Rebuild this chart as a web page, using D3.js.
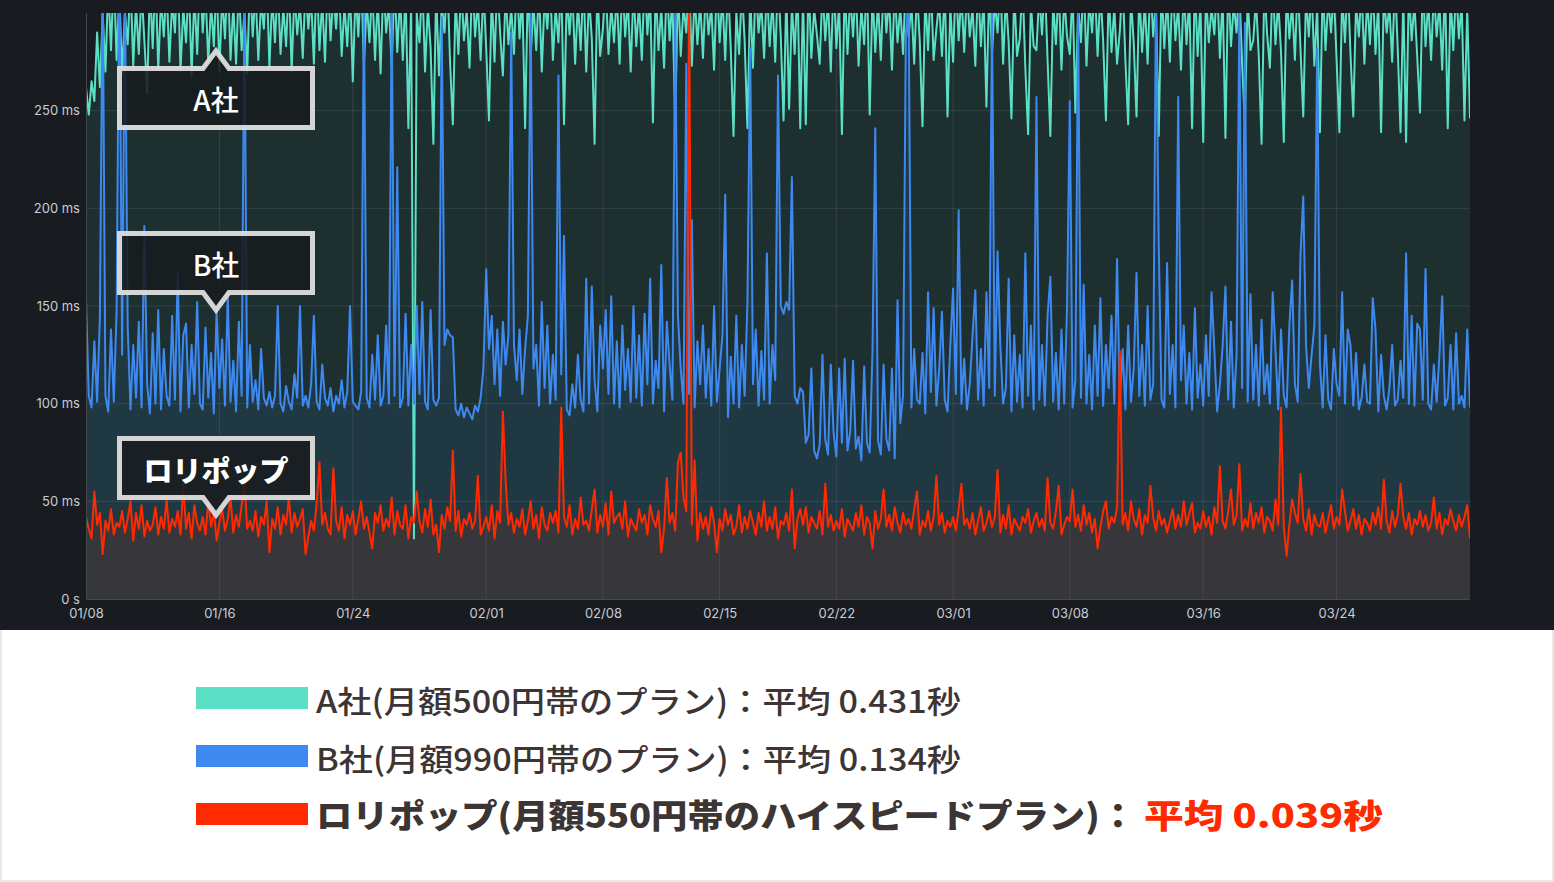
<!DOCTYPE html>
<html><head><meta charset="utf-8">
<script src="https://cdn.jsdelivr.net/npm/d3@7"></script>
<style>
html,body{margin:0;padding:0;background:#fff;}
svg{display:block;}
</style></head><body>
<svg id="c" width="1554" height="882"></svg>
<script>
// ---------- data ----------
const startDate = "2021-01-08T00:00:00";
const endDate = "2021-04-01T00:00:00";
const stepHours = 4;
const xTickDates = ["2021-01-08","2021-01-16","2021-01-24","2021-02-01","2021-02-08","2021-02-15","2021-02-22","2021-03-01","2021-03-08","2021-03-16","2021-03-24"];
const xTickLabels = ["01/08","01/16","01/24","02/01","02/08","02/15","02/22","03/01","03/08","03/16","03/24"];
const yTicks = [0,50,100,150,200,250];
const yTickLabels = ["0 s","50 ms","100 ms","150 ms","200 ms","250 ms"];
const seriesNames = ["A社","B社","ロリポップ"];
const legendLabels = ["A社(月額500円帯のプラン)：平均 0.431秒","B社(月額990円帯のプラン)：平均 0.134秒","ロリポップ(月額550円帯のハイスピードプラン)："];
const legendHighlight = "平均 0.039秒";

// response time (ms), one value every 4 hours
const seriesA = [
262,248,265,255,290,262, 300,270,315,281,322,276, 310,268,300,284,318,273, 305,279,312,286,259,316,
282,320,271,308,288,314, 275,306,290,325,270,303, 285,317,268,310,279,322, 290,312,274,305,283,318,
270,309,287,321,276,304, 274,315,281,300,269,318, 288,312,276,306,292,320, 272,309,285,316,279,303,
283,318,270,311,289,305, 277,314,292,308,274,322, 281,307,275,319,286,310, 292,316,278,304,283,313,
265,311,288,320,273,306, 285,314,276,309,269,317, 290,305,272,318,280,309, 276,312,241,306,31,300,
285,318,270,304,282,233, 312,268,305,290,320,275, 243,308,279,315,286,302, 272,319,288,306,276,313,
282,245,310,275,318,290, 268,311,284,303,279,320, 287,309,241,316,277,305, 281,314,270,308,292,317,
276,303,285,319,243,310, 289,312,274,306,281,318, 270,309,287,233,315,278, 292,316,279,304,285,311,
274,318,288,307,270,313, 283,305,276,320,289,309, 244,314,281,303,272,317, 286,308,243,315,278,304,
290,319,273,310,284,306, 277,312,289,304,271,318, 285,309,276,316,282,237, 301,279,313,286,241,310,
272,318,290,305,277,314, 283,307,275,320,288,245, 311,251,304,279,316,241, 309,243,318,277,302,289,
274,313,286,307,270,319, 282,305,238,316,279,310, 288,314,273,303,284,320, 248,311,280,306,276,317,
290,308,271,314,285,303, 279,318,288,305,274,312, 286,242,309,281,317,276, 292,306,278,315,247,304,
275,319,286,310,280,313, 288,303,273,317,283,308, 252,314,279,306,290,318, 274,309,285,246,312,278,
287,316,272,238,305,283, 281,310,289,318,276,237, 306,284,315,271,309,288, 279,313,249,304,285,319,
273,307,290,316,278,311, 286,245,312,280,303,274, 291,317,276,243,308,285, 247,312,280,306,274,318,
288,305,237,315,282,309, 275,319,286,304,271,313, 284,308,241,317,278,306, 234,311,285,303,289,316,
277,310,236,318,283,305, 290,314,274,243,309,281, 286,307,278,233,315,289, 272,318,284,306,280,234,
311,287,305,276,317,282, 247,309,288,314,273,304, 239,316,281,307,290,312, 276,239,310,285,318,279,
247,305,288,313,274,308, 284,316,279,306,239,311, 290,304,275,317,282,239, 309,234,313,286,305,278,
249,318,283,307,276,312, 288,305,271,316,241,309, 281,314,287,306,245,302, 246
];
const seriesB = [
153,104,98,132,101,145, 320,104,96,138,101,147, 330,125,315,140,97,130, 103,142,98,191,110,95,
136,100,148,97,128,104, 99,145,102,167,96,135, 141,98,130,105,152,100, 97,139,103,126,95,148,
108,133,99,155,101,122, 96,142,104,310,98,130, 101,112,97,128,103,99, 106,98,104,150,100,96,
109,101,97,115,103,150, 99,104,98,110,145,101, 97,120,103,99,108,96, 104,100,112,98,106,150,
101,99,97,106,305,103, 98,125,102,135,99,104, 140,100,305,104,221,98, 103,146,99,130,100,150,
105,152,101,97,148,102, 99,103,298,130,138,135, 134,97,94,100,93,98, 95,92,99,96,103,118,
169,128,145,110,138,104, 142,120,135,290,130,112, 138,105,128,145,300,118, 130,99,152,108,140,100,
125,102,268,115,186,97, 94,110,98,125,102,96, 164,100,160,112,96,140, 118,148,105,155,100,132,
98,140,107,128,101,150, 103,135,99,146,110,164, 100,122,108,171,96,142, 120,102,300,145,118,100,
274,105,194,98,132,110, 140,103,128,99,150,101, 118,135,207,93,124,100, 145,98,130,104,152,282,
110,138,99,127,102,177, 100,130,112,268,150,146, 152,148,216,104,100,108, 106,80,84,118,76,72,
79,125,82,74,120,85, 73,118,80,123,76,86, 122,77,83,71,119,80, 75,127,241,81,74,120,
82,76,118,72,153,90, 104,290,305,98,128,102, 100,126,95,157,106,149, 99,118,147,102,96,130,
159,105,199,100,123,97, 110,135,158,102,128,99, 157,108,300,104,178,130, 100,108,164,96,135,101,
125,98,177,104,140,97, 257,102,130,99,145,165, 101,126,97,138,100,149, 255,98,112,300,103,161,
100,125,97,140,104,154, 99,130,108,145,100,174, 102,128,97,140,101,118, 167,104,130,99,150,102,
110,310,181,102,98,172, 105,130,98,257,112,140, 100,126,97,149,103,120, 99,135,104,157,128,96,
110,130,160,102,142,98, 125,300,108,295,101,156, 102,130,99,143,105,120, 100,157,128,97,138,104,
98,140,163,110,101,176, 206,130,108,125,140,282, 120,98,135,102,97,128, 110,104,157,100,138,130,
99,126,97,103,120,101, 100,154,138,96,125,104, 97,108,130,99,102,122, 103,177,100,145,99,141,
138,102,169,100,97,120, 101,125,155,99,103,130, 97,136,100,104,98,138, 98
];
const seriesC = [
42,36,31,55,38,44, 23,40,35,46,33,39, 37,45,34,41,50,30, 44,36,48,32,40,35,
38,47,33,42,36,51, 34,41,37,45,33,59, 36,44,31,48,39,35, 42,33,50,37,45,30,
39,46,35,41,52,34, 43,37,48,62,36,40, 35,45,32,42,38,50, 24,41,36,47,33,43,
38,52,34,44,37,41, 46,23,32,40,35,49, 70,38,44,36,33,67, 40,35,47,31,43,38,
45,33,41,50,36,42, 34,26,44,39,48,35, 41,37,52,33,45,38, 36,48,31,42,39,55,
40,34,46,37,51,33, 38,24,43,36,47,40, 76,35,45,32,41,38, 44,36,40,63,33,37,
42,35,48,31,45,39, 96,60,38,44,34,41, 37,46,33,40,50,36, 43,31,47,38,35,44,
39,45,34,98,42,37, 48,33,41,36,52,38, 40,35,46,56,34,43, 37,49,33,55,39,42,
44,36,50,32,41,38, 35,46,39,43,33,48, 41,37,45,24,36,62, 39,44,35,70,75,52,
45,320,38,71,30,44, 36,42,33,47,39,24, 41,35,46,38,43,33, 37,48,34,42,36,45,
39,33,44,37,50,35, 42,36,47,31,40,38, 44,35,56,26,41,46, 38,47,34,42,39,36,
45,33,59,37,43,35, 40,36,46,32,41,38, 35,44,37,48,33,42, 39,26,45,36,41,56,
37,43,35,47,39,34, 44,38,41,36,46,55, 33,40,37,45,35,42, 63,38,44,34,40,37,
42,35,46,59,38,41, 36,44,33,40,47,35, 39,45,37,42,66,34, 43,36,48,33,41,38,
35,42,39,46,34,40, 44,37,41,35,62,39, 36,45,58,33,38,42, 40,56,37,43,35,48,
38,44,34,41,26,37, 45,50,36,42,39,47, 127,38,44,35,50,41, 37,46,33,43,39,58,
42,35,45,38,41,34, 40,46,36,43,37,50, 38,44,49,34,39,36, 45,37,42,33,47,39,
68,40,36,45,56,38, 43,69,35,41,37,49, 36,44,39,47,34,42, 40,35,51,38,98,37,
22,38,51,44,39,64, 41,35,46,33,43,38, 37,44,34,41,48,36, 42,38,56,45,35,40,
46,36,43,33,41,39, 35,44,38,47,36,61, 40,34,45,37,43,59, 42,36,44,33,41,38,
45,37,43,35,39,52, 36,44,33,41,38,46, 40,35,43,37,42,48, 31
];
const seriesColors = ["#5be0c6","#3d89f0","#ff2a00"];

// ---------- drawing ----------
const parse = d3.timeParse("%Y-%m-%dT%H:%M:%S");
const parseDay = d3.timeParse("%Y-%m-%d");
const t0 = parse(startDate), t1 = parse(endDate);
const svg = d3.select("#c");
const W = 1554, H = 882;

// backgrounds
svg.append("rect").attr("x",0).attr("y",0).attr("width",W).attr("height",H).attr("fill","#e9e9e9");
svg.append("rect").attr("x",2).attr("y",630).attr("width",W-4).attr("height",H-632).attr("fill","#ffffff");
svg.append("rect").attr("x",0).attr("y",0).attr("width",W).attr("height",630).attr("fill","#181b1f");

const L = 86, R = 1470, T = 13, B = 599;
const x = d3.scaleTime().domain([t0,t1]).range([L,R]);
const y = d3.scaleLinear().domain([0,300]).range([B,T]);

const toPts = arr => arr.map((v,i)=>({t:d3.timeHour.offset(t0,i*stepHours), v}));
const data = [seriesA,seriesB,seriesC].map(toPts);

// grid
const grid = svg.append("g");
grid.selectAll("line.h").data(yTicks.slice(1)).join("line")
  .attr("x1",L).attr("x2",R).attr("y1",d=>y(d)).attr("y2",d=>y(d))
  .attr("stroke","rgba(204,204,220,0.13)").attr("stroke-width",1);
grid.selectAll("line.v").data(xTickDates.slice(1)).join("line")
  .attr("x1",d=>x(parseDay(d))).attr("x2",d=>x(parseDay(d))).attr("y1",T).attr("y2",B)
  .attr("stroke","rgba(204,204,220,0.13)").attr("stroke-width",1);

// clip
svg.append("clipPath").attr("id","plotclip").append("rect")
  .attr("x",L).attr("y",T).attr("width",R-L).attr("height",B-T);
const plot = svg.append("g").attr("clip-path","url(#plotclip)");

const area = d3.area().x(d=>x(d.t)).y0(y(0)).y1(d=>y(d.v));
const line = d3.line().x(d=>x(d.t)).y(d=>y(d.v));
data.forEach((s,i)=>{
  plot.append("path").datum(s).attr("d",area).attr("fill",seriesColors[i]).attr("fill-opacity",0.1);
});
data.forEach((s,i)=>{
  plot.append("path").datum(s).attr("d",line).attr("fill","none")
    .attr("stroke",seriesColors[i]).attr("stroke-width",2).attr("stroke-linejoin","round");
});

// axis frame lines
svg.append("line").attr("x1",L+0.5).attr("x2",L+0.5).attr("y1",T).attr("y2",B).attr("stroke","#45484d");
svg.append("line").attr("x1",L).attr("x2",R).attr("y1",B+0.5).attr("y2",B+0.5).attr("stroke","#45484d");

// axes
const yAxis = d3.axisLeft(y).tickValues(yTicks).tickFormat((d,i)=>yTickLabels[i]).tickSize(0).tickPadding(6);
const gy = svg.append("g").attr("transform",`translate(${L},0)`).call(yAxis);
gy.select(".domain").remove();
gy.selectAll("text").attr("fill","#c8ccd4").attr("font-family","Inter, 'Noto Sans', sans-serif").attr("font-size",13);

const xAxis = d3.axisBottom(x).tickValues(xTickDates.map(parseDay)).tickFormat((d,i)=>xTickLabels[i]).tickSize(0).tickPadding(10);
const gx = svg.append("g").attr("transform",`translate(0,${B})`).call(xAxis);
gx.select(".domain").remove();
gx.selectAll("text").attr("fill","#c8ccd4").attr("font-family","Inter, 'Noto Sans', sans-serif").attr("font-size",13);

// annotation callouts
function callout(cx, top, bottom, dir, label, size, weight){
  const l = 119.5, r = 312.5, hw = 13, ph = 17.5;
  let p;
  if(dir==="up"){
    p = `M${l},${top} L${cx-hw},${top} L${cx},${top-ph} L${cx+hw},${top} L${r},${top} L${r},${bottom} L${l},${bottom} Z`;
  } else {
    p = `M${l},${top} L${r},${top} L${r},${bottom} L${cx+hw},${bottom} L${cx},${bottom+ph} L${cx-hw},${bottom} L${l},${bottom} Z`;
  }
  svg.append("path").attr("d",p).attr("fill","rgba(24,27,31,0.88)")
    .attr("stroke","rgba(222,222,222,0.95)").attr("stroke-width",5).attr("stroke-linejoin","miter");
  svg.append("text").attr("x",216).attr("y",(top+bottom)/2+1).attr("text-anchor","middle")
    .attr("dominant-baseline","central").attr("fill","#ffffff")
    .attr("font-family","'Noto Sans CJK JP', sans-serif").attr("font-size",size).attr("font-weight",weight)
    .text(label);
}
callout(216, 68.5, 127.5, "up", seriesNames[0], 28, 500);
callout(216, 233.5, 292.5, "down", seriesNames[1], 28, 500);
callout(216, 438.5, 497.5, "down", seriesNames[2], 29, 900);

// legend
const rowY = [698, 756, 814];
const sw = [687, 745, 803];
const lg = svg.append("g");
[0,1,2].forEach(i=>{
  lg.append("rect").attr("x",196).attr("y",sw[i]).attr("width",112).attr("height",22).attr("fill",seriesColors[i]);
});
const txtColor = "#3d3434";
lg.append("text").attr("x",316).attr("y",rowY[0]+1).attr("dominant-baseline","central")
  .attr("font-family","'Noto Sans CJK JP', sans-serif").attr("font-size",31).attr("font-weight",500)
  .attr("fill",txtColor).attr("textLength",645).attr("lengthAdjust","spacingAndGlyphs").text(legendLabels[0]);
lg.append("text").attr("x",316).attr("y",rowY[1]+1).attr("dominant-baseline","central")
  .attr("font-family","'Noto Sans CJK JP', sans-serif").attr("font-size",31).attr("font-weight",500)
  .attr("fill",txtColor).attr("textLength",645).attr("lengthAdjust","spacingAndGlyphs").text(legendLabels[1]);
lg.append("text").attr("x",316).attr("y",rowY[2]).attr("dominant-baseline","central")
  .attr("font-family","'Noto Sans CJK JP', sans-serif").attr("font-size",33).attr("font-weight",900)
  .attr("fill",txtColor).attr("textLength",820).attr("lengthAdjust","spacingAndGlyphs").text(legendLabels[2]);
lg.append("text").attr("x",1144).attr("y",rowY[2]).attr("dominant-baseline","central")
  .attr("font-family","'Noto Sans CJK JP', sans-serif").attr("font-size",33).attr("font-weight",900)
  .attr("fill","#ff2a00").attr("textLength",239).attr("lengthAdjust","spacingAndGlyphs").text(legendHighlight);
</script>
</body></html>
